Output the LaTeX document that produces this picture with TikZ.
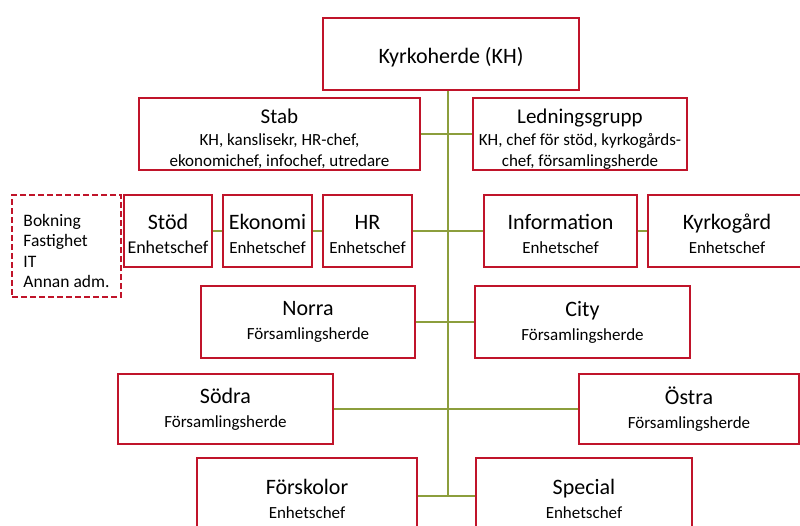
\documentclass[tikz,border=0pt]{standalone}
\usepackage{fontspec}
\setmainfont{Carlito}
\definecolor{boxred}{HTML}{C0142A}
\definecolor{linegreen}{HTML}{8C9E3C}
\newcommand{\ttl}[1]{{\fontsize{22}{24}\selectfont #1}}
\newcommand{\ttls}[1]{{\fontsize{21}{24}\selectfont\rule{0pt}{25pt}#1}}
\newcommand{\ttlr}[1]{{\fontsize{22}{24}\selectfont\rule{0pt}{22pt}#1}}
\tikzset{
  orgbox/.style={draw=boxred, line width=2.4pt, fill=white, rectangle, inner sep=0pt, align=center,
    font=\fontsize{17}{21}\selectfont},
  dashbox/.style={orgbox, dash pattern=on 6pt off 3pt, align=left, font=\fontsize{17.5}{20.5}\selectfont},
  conn/.style={draw=linegreen, line width=2.3pt}
}
\begin{document}
\begin{tikzpicture}[x=1pt,y=-1pt]
\clip (0,0) rectangle (800,525);
\fill[white] (0,0) rectangle (800,525);
\useasboundingbox (0,0) rectangle (800,525);
\coordinate (tb) at (448,496);
\node[orgbox, minimum width=256, minimum height=72] (kh) at (451,54) {\ttlr{Kyrkoherde (KH)}};
\node[orgbox, minimum width=281, minimum height=72] (stab) at (279.5,134)
  {\ttls{Stab}\\[1pt]KH, kanslisekr, HR-chef,\\ekonomichef, infochef, utredare};
\node[orgbox, minimum width=214, minimum height=72] (ledn) at (580,134)
  {\ttls{Ledningsgrupp}\\[1pt]KH, chef för stöd, kyrkogårds-\\chef, församlingsherde};
\node[dashbox, minimum width=109, minimum height=102] (adm) at (66.5,246)
  {\rule{0pt}{22pt}Bokning\\Fastighet\\IT\\Annan adm.};
\node[orgbox, minimum width=88, minimum height=72] (stod) at (168,231) {\ttlr{Stöd}\\[3pt]{\fontsize{18}{21}\selectfont Enhetschef}};
\node[orgbox, minimum width=89, minimum height=72] (eko) at (267.5,231) {\ttlr{Ekonomi}\\[3pt]Enhetschef};
\node[orgbox, minimum width=89, minimum height=72] (hr) at (367.5,231) {\ttlr{HR}\\[3pt]Enhetschef};
\node[orgbox, minimum width=153, minimum height=72] (info) at (560.5,231) {\ttlr{Information}\\[3pt]Enhetschef};
\node[orgbox, minimum width=158, minimum height=72] (kg) at (727,231) {\ttlr{Kyrkogård}\\[3pt]Enhetschef};
\node[orgbox, minimum width=214, minimum height=72] (norra) at (308,322) {\ttl{Norra}\\[3pt]Församlingsherde};
\node[orgbox, minimum width=215, minimum height=72] (city) at (582.5,322) {\ttl{City}\\[3pt]Församlingsherde};
\node[orgbox, minimum width=215, minimum height=70] (sodra) at (225.5,409) {\ttl{Södra}\\[3pt]Församlingsherde};
\node[orgbox, minimum width=220, minimum height=70] (ostra) at (689,409) {\ttl{Östra}\\[3pt]Församlingsherde};
\node[orgbox, minimum width=220, minimum height=82] (forsk) at (307,499) {\ttl{Förskolor}\\[3pt]Enhetschef};
\node[orgbox, minimum width=216, minimum height=82] (spec) at (584,499) {\ttl{Special}\\[3pt]Enhetschef};
\draw[conn] (kh.south -| tb) -- (tb);
\draw[conn] (stab.east) -- (ledn.west);
\draw[conn] (stod.east) -- (eko.west);
\draw[conn] (eko.east) -- (hr.west);
\draw[conn] (hr.east) -- (info.west);
\draw[conn] (info.east) -- (kg.west);
\draw[conn] (norra.east) -- (city.west);
\draw[conn] (sodra.east) -- (ostra.west);
\draw[conn] (forsk.east |- tb) -- (spec.west |- tb);
\end{tikzpicture}
\end{document}
